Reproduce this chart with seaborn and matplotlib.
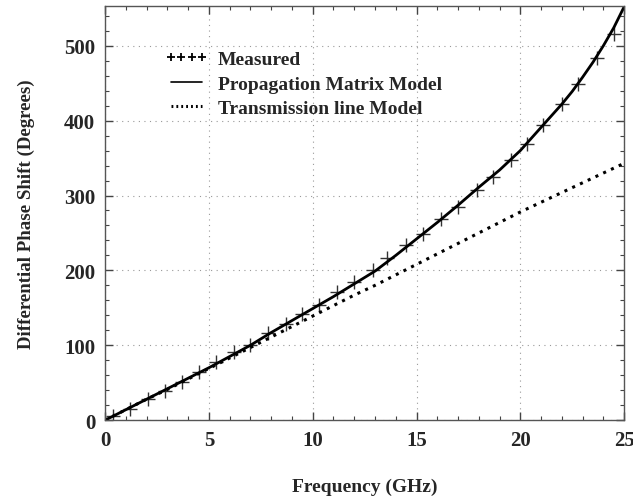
import numpy as np
import pandas as pd
import matplotlib
matplotlib.use("Agg")
import matplotlib.pyplot as plt
from matplotlib.lines import Line2D
from matplotlib.ticker import MultipleLocator
import seaborn as sns

# Measured data
meas_freq = [0.4, 1.2, 2.07, 2.9, 3.7, 4.5, 5.35, 6.2, 7.0, 7.85, 8.7, 9.5, 10.3, 11.15,
             12.0, 12.9, 13.6, 14.5, 15.3, 16.2, 17.0, 17.9, 18.7, 19.55, 20.3, 21.1,
             22.0, 22.8, 23.7, 24.5]
meas_phase = [5, 15, 28, 39, 51, 64, 78, 91, 101, 116, 128, 142, 154, 171, 184, 200, 216,
              234, 249, 269, 285, 308, 325, 348, 369, 394, 422, 449, 484, 516]

# Propagation matrix model
pm_freq = [0, 1, 2, 3, 4, 5, 6, 7, 8, 9, 10, 11, 12, 13, 14, 15, 16, 17, 18, 19, 20,
           21, 22, 22.5, 23, 23.5, 24, 24.5, 25]
pm_phase = [0, 14, 28, 42, 56, 70, 85, 100, 117, 133, 149, 165, 182, 199, 220, 242, 264,
            287, 311, 334, 360, 391, 422, 439, 458, 478, 500, 524, 552]

# Transmission line model
tl_freq = [0, 1, 2, 3, 4, 5, 6, 7, 8, 9, 10, 11, 12, 13, 14, 15, 16, 17, 18, 19, 20, 21,
           22, 23, 24, 25]
tl_phase = [0, 14, 28, 41, 55, 69, 83, 97, 111, 125, 139, 153, 167, 180, 194, 208, 222,
            236, 250, 264, 278, 291, 304, 317, 330, 343]

x_ticks = [0, 5, 10, 15, 20, 25]
y_ticks = [0, 100, 200, 300, 400, 500]

sns.set_theme(style="ticks")
plt.rcParams["font.family"] = ["Liberation Serif", "DejaVu Serif"]
plt.rcParams["font.weight"] = "bold"

fig = plt.figure(figsize=(6.33, 5.02), dpi=100)
ax = fig.add_axes([0.166, 0.161, 0.820, 0.825])

df_pm = pd.DataFrame({"f": pm_freq, "p": pm_phase})
df_tl = pd.DataFrame({"f": tl_freq, "p": tl_phase})
df_m = pd.DataFrame({"f": meas_freq, "p": meas_phase})

sns.lineplot(data=df_pm, x="f", y="p", ax=ax, color="black", linewidth=2.0, sort=False)
sns.lineplot(data=df_tl, x="f", y="p", ax=ax, color="black", linewidth=2.2,
             linestyle=(0, (1, 1.8)), sort=False)
sns.scatterplot(data=df_m, x="f", y="p", ax=ax, marker="+", color="#333333", s=90,
                linewidth=1.0)

ax.set_xlim(0, 25)
ax.set_ylim(0, 553)
ax.set_xticks(x_ticks)
ax.set_yticks(y_ticks)
ax.xaxis.set_minor_locator(MultipleLocator(1))
ax.yaxis.set_minor_locator(MultipleLocator(20))
ax.tick_params(which="both", direction="in", top=True, right=True, color="#444444")
ax.tick_params(which="major", length=6, width=1.0, labelsize=15, pad=7)
ax.tick_params(which="minor", length=3, width=0.8)
for lab in ax.get_xticklabels() + ax.get_yticklabels():
    lab.set_fontweight("bold")
ax.grid(True, which="major", color="#999999", linestyle=(0, (1, 4)), linewidth=0.8)
for sp in ax.spines.values():
    sp.set_color("#555555")
    sp.set_linewidth(1.0)

ax.set_xlabel("Frequency (GHz)", fontsize=14, fontweight="bold", labelpad=20)
ax.set_ylabel("Differential Phase Shift (Degrees)", fontsize=13.6, fontweight="bold",
              labelpad=21)

handles = [
    Line2D([], [], color="black", marker="+", linestyle="none", markersize=6,
           markeredgewidth=1.3),
    Line2D([], [], color="black", linewidth=1.2),
    Line2D([], [], color="black", linewidth=2.2, linestyle=(0, (0.6, 1.0))),
]
labels = ["Measured", "Propagation Matrix Model", "Transmission line Model"]
leg = ax.legend(handles, labels, loc="upper left", bbox_to_anchor=(0.082, 0.935),
                frameon=False, numpoints=4, handlelength=2.2, handletextpad=0.5,
                labelspacing=0.36, prop={"size": 14, "weight": "bold"})

fig.savefig("out.png", dpi=100)
